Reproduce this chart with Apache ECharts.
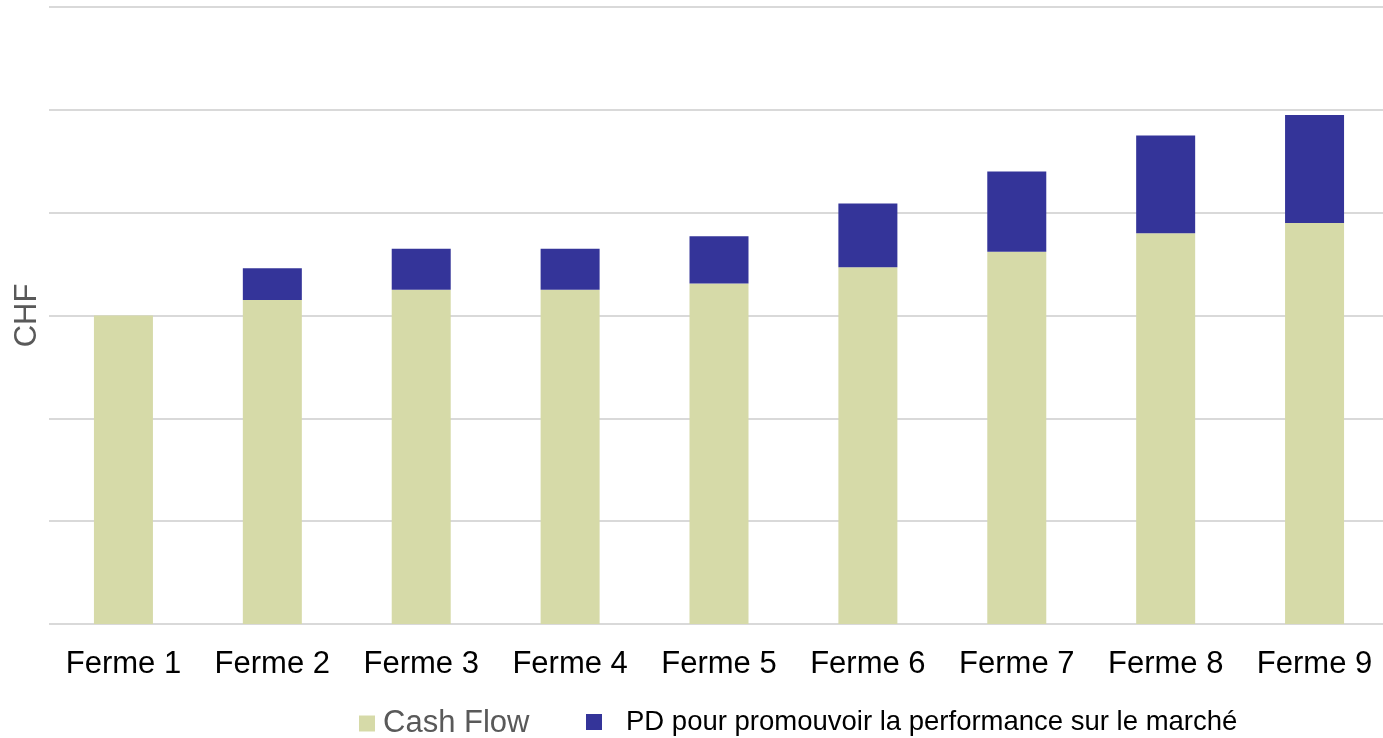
<!DOCTYPE html>
<html>
<head>
<meta charset="utf-8">
<script src="https://cdn.jsdelivr.net/npm/echarts@6/dist/echarts.min.js"></script>
<style>
html,body{margin:0;padding:0;background:#fff;overflow:hidden;width:1383px;height:738px;}
#c{width:1389px;height:738px;}
</style>
</head>
<body>
<div id="c"></div>
<script>
const categories = ['Ferme 1','Ferme 2','Ferme 3','Ferme 4','Ferme 5','Ferme 6','Ferme 7','Ferme 8','Ferme 9'];
const cashFlow = [3.0, 3.15, 3.25, 3.25, 3.31, 3.47, 3.62, 3.80, 3.90];
const pdMarket = [0, 0.31, 0.40, 0.40, 0.46, 0.62, 0.78, 0.95, 1.05];
const seriesNames = ['Cash Flow', 'PD pour promouvoir la performance sur le marché'];
const yAxisName = 'CHF';

const chart = echarts.init(document.getElementById('c'));
chart.setOption({
  animation: false,
  backgroundColor: '#ffffff',
  grid: { left: 49, right: 0, top: 7, bottom: 114, containLabel: false },
  legend: [
    {
      data: [seriesNames[0]],
      left: 359, top: 708, padding: 0,
      itemWidth: 16, itemHeight: 16, icon: 'rect',
      itemStyle: { borderWidth: 0 },
      textStyle: { fontFamily: 'Liberation Sans, Arial, sans-serif', fontSize: 31, color: '#595959', padding: [0,0,0,3] }
    },
    {
      data: [seriesNames[1]],
      left: 586, top: 708, padding: 0,
      itemWidth: 16, itemHeight: 16, icon: 'rect',
      itemStyle: { borderWidth: 0 },
      textStyle: { fontFamily: 'Liberation Sans, Arial, sans-serif', fontSize: 27.5, color: '#000000', padding: [0,0,0,19] }
    }
  ],
  xAxis: {
    type: 'category',
    data: categories,
    axisLine: { show: false },
    axisTick: { show: false },
    axisLabel: { fontFamily: 'Liberation Sans, Arial, sans-serif', fontSize: 31, color: '#000000', margin: 25, interval: 0 }
  },
  yAxis: {
    type: 'value',
    min: 0, max: 6, interval: 1,
    name: yAxisName,
    nameLocation: 'middle',
    nameGap: 6,
    nameTextStyle: { fontFamily: 'Liberation Sans, Arial, sans-serif', fontSize: 31, color: '#595959' },
    axisLine: { show: false },
    axisTick: { show: false },
    axisLabel: { show: false },
    splitLine: { lineStyle: { color: '#d9d9d9', width: 2 } }
  },
  series: [
    {
      name: seriesNames[0], type: 'bar', stack: 'total', barWidth: 59,
      data: cashFlow,
      itemStyle: { color: '#D6DAA8' }
    },
    {
      name: seriesNames[1], type: 'bar', stack: 'total', barWidth: 59,
      data: pdMarket,
      itemStyle: { color: '#343499' }
    }
  ]
});
</script>
</body>
</html>
